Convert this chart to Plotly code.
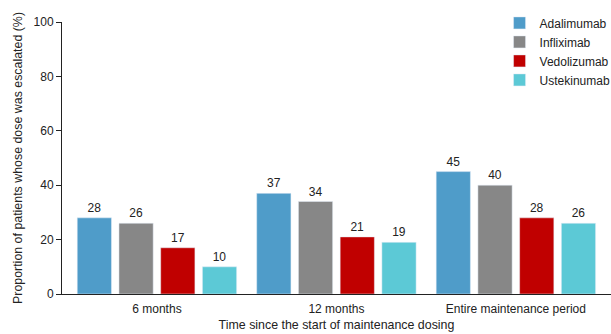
import plotly.graph_objects as go

PERIODS = ["6 months", "12 months", "Entire maintenance period"]
DRUGS = ["Adalimumab", "Infliximab", "Vedolizumab", "Ustekinumab"]
VALUES = {
    "Adalimumab":  [28, 37, 45],
    "Infliximab":  [26, 34, 40],
    "Vedolizumab": [17, 21, 28],
    "Ustekinumab": [10, 19, 26],
}
DRUG_COLORS = {
    "Adalimumab":  "#4F9CC9",
    "Infliximab":  "#878787",
    "Vedolizumab": "#C00000",
    "Ustekinumab": "#5CC9D6",
}
Y_TICKS = [0, 20, 40, 60, 80, 100]

FONT = dict(family="Liberation Sans, Arial, sans-serif", size=12, color="#222222")

fig = go.Figure()
for drug in DRUGS:
    vals = VALUES[drug]
    fig.add_trace(go.Bar(
        name=drug,
        x=PERIODS,
        y=vals,
        text=[str(v) for v in vals],
        textposition="outside",
        textfont=dict(size=12, color="#222222"),
        cliponaxis=False,
        marker_color=DRUG_COLORS[drug],
    ))

fig.update_layout(
    width=611,
    height=334,
    paper_bgcolor="white",
    plot_bgcolor="white",
    font=FONT,
    margin=dict(l=62, r=0, t=22, b=40, autoexpand=False),
    barmode="group",
    bargap=0.07,
    bargroupgap=0.18,
    showlegend=True,
    legend=dict(
        x=0.797, y=1.05, xanchor="left", yanchor="top",
        bgcolor="rgba(0,0,0,0)",
        font=dict(size=12, color="#222222"),
        itemwidth=30,
        tracegroupgap=0,
    ),
    xaxis=dict(
        range=[-0.529, 2.53],
        showline=True, linecolor="#222222", linewidth=1,
        ticks="", showgrid=False,
        automargin=False,
        ticklabelstandoff=4,
        title=dict(text="Time since the start of maintenance dosing", standoff=4,
                   font=dict(size=12.4)),
    ),
    yaxis=dict(
        range=[0, 100],
        tickvals=Y_TICKS,
        showline=True, linecolor="#222222", linewidth=1,
        ticks="outside", ticklen=5, tickcolor="#222222",
        showgrid=False, zeroline=False,
        automargin=False,
        title=dict(text="Proportion of patients whose dose was escalated (%)",
                   standoff=8, font=dict(size=12.4)),
    ),
)

# drop the browser's default page margin so the figure sits at the window's corner
fig.write_html("out.html", config={"displayModeBar": False},
               post_script="document.body.style.margin='0';")
